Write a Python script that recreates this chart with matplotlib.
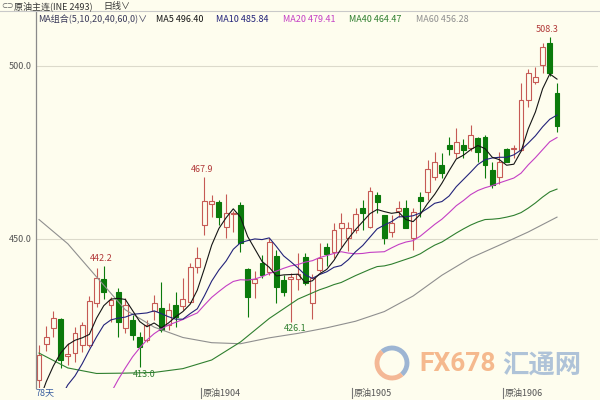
import matplotlib
matplotlib.use('Agg')
import matplotlib.pyplot as plt
import matplotlib.transforms as mtransforms
from matplotlib.patches import Arc
import numpy as np

plt.rcParams['font.family'] = ['Noto Sans CJK SC', 'DejaVu Sans']

# daily candles
opens = [
    409.2, 419.7, 424.3, 426.9, 416.2, 417.1, 419.4, 419.4, 431.5, 438.4,
    430.9, 434.7, 424.3, 426.6, 421.7, 420.8, 429.2, 430.1, 425.1, 430.9,
    430.6, 431.8, 441.9, 454.0, 460.1, 460.7, 453.5, 457.3, 459.8, 441.3,
    437.3, 443.1, 440.5, 445.1, 438.2, 438.4, 438.4, 444.8, 431.5, 441.0,
    447.7, 446.2, 453.2, 450.3, 452.6, 459.0, 453.5, 462.7, 456.9, 452.0,
    458.1, 459.0, 450.3, 462.1, 463.6, 467.9, 471.4, 477.2, 474.9, 477.2,
    476.3, 479.2, 479.5, 470.0, 467.9, 476.0, 476.0, 475.7, 490.2, 495.4,
    500.3, 506.6, 492.2]
closes = [
    416.5, 421.7, 427.2, 415.0, 416.8, 422.8, 425.1, 432.1, 438.7, 434.7,
    432.4, 426.0, 430.9, 422.3, 418.8, 425.1, 431.5, 423.7, 429.5, 427.5,
    432.7, 441.9, 444.5, 461.0, 461.0, 456.4, 457.5, 457.6, 448.8, 433.2,
    438.4, 439.6, 449.1, 436.1, 434.7, 439.0, 439.9, 437.3, 438.7, 444.5,
    445.7, 452.6, 454.6, 453.2, 457.2, 457.5, 463.9, 460.7, 450.3, 454.6,
    459.0, 453.2, 457.8, 461.0, 470.2, 472.3, 469.1, 476.0, 478.0, 475.7,
    480.1, 475.1, 471.4, 465.6, 472.3, 472.3, 476.3, 490.2, 498.0, 496.8,
    505.5, 498.0, 482.7]
highs = [
    419.4, 424.9, 429.2, 427.2, 419.9, 424.6, 426.0, 433.5, 441.6, 442.2,
    433.3, 435.8, 433.0, 428.0, 423.1, 426.6, 433.8, 437.6, 431.5, 434.7,
    438.7, 443.1, 447.7, 467.9, 462.7, 461.3, 463.0, 458.1, 460.7, 441.6,
    440.8, 445.4, 450.3, 446.8, 439.6, 440.2, 446.0, 446.0, 439.9, 448.8,
    448.8, 454.6, 457.5, 454.9, 459.0, 461.3, 465.0, 463.6, 456.9, 456.9,
    461.0, 461.3, 459.0, 463.6, 472.8, 475.1, 474.9, 479.5, 482.1, 478.9,
    482.9, 479.5, 480.1, 472.3, 475.0, 476.3, 477.2, 495.1, 499.1, 499.7,
    506.6, 508.3, 495.1]
lows = [
    406.5, 417.6, 421.7, 412.7, 413.6, 414.5, 417.3, 418.8, 430.4, 432.6,
    426.0, 421.7, 422.8, 420.8, 413.0, 420.2, 426.6, 423.0, 423.7, 424.6,
    429.5, 431.5, 440.2, 451.2, 456.4, 454.0, 450.3, 452.0, 446.2, 427.5,
    432.9, 438.7, 439.5, 431.5, 433.5, 426.1, 435.3, 436.7, 426.9, 440.5,
    442.2, 444.5, 447.7, 446.5, 451.7, 452.6, 453.2, 457.5, 448.6, 450.6,
    456.4, 453.2, 446.8, 456.4, 461.3, 467.1, 467.6, 474.3, 473.4, 473.4,
    475.4, 472.3, 467.6, 464.7, 465.9, 472.3, 473.4, 475.4, 488.2, 494.8,
    498.0, 497.1, 480.9]

# moving averages, one value per candle from the first one visible
ma5 = [
    403.0, 408.7, 413.3, 417.0, 419.4, 420.7, 421.4, 422.4, 427.1, 430.7,
    432.6, 432.8, 432.5, 429.3, 426.1, 424.6, 425.7, 424.3, 425.7, 427.5,
    429.0, 431.1, 435.2, 441.5, 448.2, 453.0, 456.1, 458.7, 456.3, 450.7,
    447.1, 443.5, 441.8, 439.3, 439.6, 439.7, 439.8, 437.4, 437.9, 439.9,
    441.2, 443.8, 447.2, 450.1, 452.7, 455.0, 457.3, 458.5, 457.9, 457.4,
    457.7, 455.6, 455.0, 457.1, 460.2, 462.9, 466.1, 469.7, 473.1, 474.2,
    475.8, 477.0, 476.1, 473.6, 472.9, 471.3, 471.6, 475.3, 481.8, 486.7,
    493.4, 497.7, 496.2]
ma10_start = 3
ma10 = [
    404.0, 407.8, 410.4, 413.9, 417.9, 421.7,
    425.1, 426.6, 427.1, 427.4, 428.2, 428.4, 428.6, 429.2, 428.4, 427.5,
    426.8, 426.8, 428.4, 429.8, 433.6, 437.8, 441.0, 443.6, 447.0, 448.9,
    449.5, 450.0, 449.8, 450.3, 447.8, 445.1, 443.4, 441.6, 439.6, 438.6,
    439.7, 440.5, 441.8, 442.3, 444.0, 446.3, 448.1, 450.5, 452.9, 454.0,
    455.0, 456.4, 456.4, 456.7, 457.5, 458.8, 460.3, 460.8, 462.4, 465.1,
    467.2, 469.3, 471.5, 472.9, 473.4, 473.6, 473.6, 474.3, 475.7, 477.7,
    479.8, 482.4, 484.6, 485.8]
ma20_start = 9
ma20 = [
    403.5, 405.5, 409.3, 412.7, 415.9, 418.5, 420.8, 422.6, 424.0, 425.1,
    425.9, 426.7, 427.7, 428.6, 430.9, 433.1, 434.8, 436.4, 437.7, 438.2,
    438.1, 438.4, 439.1, 440.0, 440.7, 441.5, 442.2, 442.6, 443.3, 443.7,
    444.6, 445.2, 445.8, 446.3, 445.9, 445.7, 445.8, 446.1, 446.2, 446.3,
    447.4, 448.4, 449.1, 449.5, 450.8, 452.5, 454.2, 455.7, 457.6, 459.6,
    461.1, 462.8, 464.0, 464.8, 465.4, 466.2, 466.9, 467.6, 469.0, 471.4,
    473.5, 475.8, 478.1, 479.3]
# MA40: every 4th candle up to candle 37, then every candle
ma40_idx = list(range(0, 37, 4)) + list(range(39, 73))
ma40 = [
    417.0, 412.7, 411.1, 411.2, 411.4, 412.5, 415.0, 420.2, 427.0, 432.6,
    435.3, 436.0, 436.8, 437.4, 438.4, 439.4, 440.3, 441.2, 442.0, 442.2,
    442.7, 443.4, 444.1, 444.8, 445.7, 447.0, 448.2, 449.1, 450.4, 451.7,
    452.9, 454.0, 454.9, 455.6, 455.7, 455.9, 456.3, 456.8, 457.6, 458.9,
    460.4, 462.1, 463.6, 464.4]
# MA60 sampled every 4th candle
ma60_idx = list(range(0, 73, 4))
ma60 = [455.6, 448.6, 439.0, 429.5, 424.5, 421.5, 420.0, 419.7, 421.4, 422.7,
        424.3, 426.2, 429.0, 433.5, 439.5, 444.5, 448.2, 452.0, 456.3]

high_marks = [9, 23, 71]
low_marks = [14, 35]
month_names = ['原油1904', '原油1905', '原油1906']
month_pos = [22.5, 43.5, 64.5]

BG = '#FEFDEE'
UP = '#C65A55'
DOWN = '#0B7A0B'
C_MA5, C_MA10, C_MA20, C_MA40, C_MA60 = '#151515', '#23237A', '#C43FC4', '#2F7F2F', '#8F8F8F'

fig = plt.figure(figsize=(6, 4), dpi=100, facecolor=BG)
ax = fig.add_axes([36 / 600, 12 / 400, 562 / 600, 376 / 400], facecolor=BG)

o, c, h, l = map(np.array, (opens, closes, highs, lows))
x = np.arange(len(c))
up = c >= o
lo = np.minimum(o, c)
hi = np.maximum(o, c)
ht = np.maximum(hi - lo, 0.2)

# wicks (red candles are hollow, so the wick stops at the body)
ax.vlines(x[up], hi[up], h[up], color=UP, lw=0.8, zorder=2)
ax.vlines(x[up], l[up], lo[up], color=UP, lw=0.8, zorder=2)
ax.vlines(x[~up], l[~up], h[~up], color=DOWN, lw=0.8, zorder=2)
ax.bar(x[up], ht[up], 0.68, bottom=lo[up], facecolor=BG, edgecolor=UP, lw=0.8, zorder=2)
ax.bar(x[~up], ht[~up], 0.68, bottom=lo[~up], color=DOWN, edgecolor=DOWN, lw=0.8, zorder=2)

ax.plot(ma60_idx, ma60, color=C_MA60, lw=0.8, zorder=3)
ax.plot(ma40_idx, ma40, color=C_MA40, lw=0.8, zorder=3)
ax.plot(x[ma20_start:], ma20, color=C_MA20, lw=0.8, zorder=3)
ax.plot(x[ma10_start:], ma10, color=C_MA10, lw=0.8, zorder=3)
ax.plot(x, ma5, color=C_MA5, lw=0.8, zorder=3)

for i in high_marks:
    ax.annotate(f'{h[i]:.1f}', (i, h[i]), xytext=(-2, 2), textcoords='offset points',
                ha='center', va='bottom', color='#B23A3A', fontsize=6.5, zorder=4)
for i in low_marks:
    ax.annotate(f'{l[i]:.1f}', (i, l[i]), xytext=(3, -2), textcoords='offset points',
                ha='center', va='top', color='#2F7F2F', fontsize=6.5, zorder=4)

ax.set_xlim(-0.42, 77.7)
ax.set_ylim(406.9, 515.6)
for s in ('top', 'right', 'bottom'):
    ax.spines[s].set_visible(False)
ax.spines['left'].set_color('#8A8A8A')
ax.spines['left'].set_linewidth(0.9)
ax.set_xticks([])
ax.set_yticks([450, 500])
ax.set_yticklabels(['450.0', '500.0'])
ax.tick_params(axis='y', length=0, pad=3, labelsize=6.5, labelcolor='#555555')
ax.grid(axis='y', color='#DCDACB', lw=0.8)
ax.set_axisbelow(True)

trans = mtransforms.blended_transform_factory(ax.transData, ax.transAxes)
for name, pos in zip(month_names, month_pos):
    ax.plot([pos, pos], [-0.027, 0], color='#777777', lw=0.8, transform=trans, clip_on=False)
    ax.text(pos + 0.3, -0.014, name, transform=trans, ha='left', va='center',
            fontsize=6.5, color='#555555')


def px(xp, yp):
    return xp / 600, 1 - yp / 400


# header rows
fig.add_artist(plt.Line2D([0, 1], [1 - 10.5 / 400] * 2, color='#C9C9C9', lw=0.8))
fig.text(*px(1, 6), '⊂⊃', fontsize=4.5, color='#666666', va='center', ha='left')
fig.text(*px(14, 6), '原油主连(INE 2493)', fontsize=6.5, color='#333333', va='center')
fig.text(*px(103, 6), '日线∨', fontsize=6.5, color='#333333', va='center')

legend = [
    (38, 'MA组合(5,10,20,40,60,0)∨', '#3A3A5A'),
    (156, 'MA5 496.40', C_MA5),
    (216, 'MA10 485.84', C_MA10),
    (283, 'MA20 479.41', C_MA20),
    (349, 'MA40 464.47', C_MA40),
    (416, 'MA60 456.28', C_MA60),
]
for xp, txt, col in legend:
    fig.text(*px(xp, 19), txt, fontsize=6.5, color=col, va='center', ha='left')

fig.text(*px(36, 393), '78天', fontsize=6.5, color='#3A5FA0', va='center', ha='left')

# watermark
cx, cy = px(392, 363)
fig.add_artist(Arc((cx, cy), 30 / 600, 30 / 400, theta1=-60, theta2=120,
                   color='#9DB5D3', lw=3.5, transform=fig.transFigure))
fig.add_artist(Arc((cx, cy), 30 / 600, 30 / 400, theta1=120, theta2=300,
                   color='#F4B896', lw=3.5, transform=fig.transFigure))
fig.text(*px(419, 364), 'FX678', fontsize=19, fontweight='bold', color='#F5B98E',
         family=['Roboto', 'DejaVu Sans'], va='center', ha='left')
fig.text(*px(502, 366), '汇通网', fontsize=19, fontweight='bold', color='#AFC3D8',
         va='center', ha='left')

fig.savefig('out.png', dpi=100, facecolor=BG)
